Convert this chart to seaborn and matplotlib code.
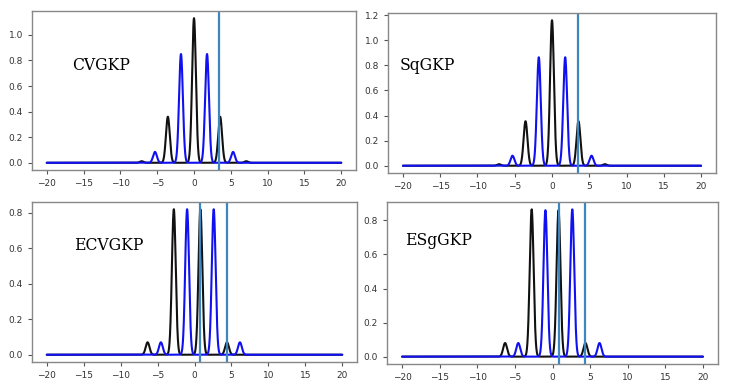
import numpy as np
import pandas as pd
import matplotlib
matplotlib.use("Agg")
import matplotlib.pyplot as plt
import seaborn as sns

sns.set_style("ticks")

# peak data: centres, heights (black and blue combs)
cv_black_x = [-7.1, -3.55, 0.0, 3.55, 7.1]
cv_black_h = [0.012, 0.36, 1.13, 0.36, 0.012]
cv_blue_x = [-5.3, -1.77, 1.77, 5.3]
cv_blue_h = [0.085, 0.85, 0.85, 0.085]
cv_vlines = [3.45]

sq_black_x = [-7.1, -3.55, 0.0, 3.55, 7.1]
sq_black_h = [0.012, 0.355, 1.16, 0.355, 0.012]
sq_blue_x = [-5.3, -1.77, 1.77, 5.3]
sq_blue_h = [0.08, 0.865, 0.865, 0.08]
sq_vlines = [3.45]

ecv_black_x = [-6.35, -2.8, 0.8, 4.4]
ecv_black_h = [0.07, 0.82, 0.82, 0.07]
ecv_blue_x = [-4.55, -1.0, 2.6, 6.15]
ecv_blue_h = [0.07, 0.82, 0.82, 0.07]
ecv_vlines = [0.8, 4.4]

esg_black_x = [-6.3, -2.77, 0.8, 4.38]
esg_black_h = [0.08, 0.865, 0.86, 0.08]
esg_blue_x = [-4.55, -0.94, 2.63, 6.25]
esg_blue_h = [0.08, 0.86, 0.865, 0.08]
esg_vlines = [0.8, 4.38]

labels = ["CVGKP", "SqGKP", "ECVGKP", "ESgGKP"]
peak_sigma = 0.26

x = np.linspace(-20, 20, 4001)


def comb(centres, heights):
    y = np.zeros_like(x)
    for c, h in zip(centres, heights):
        y += h * np.exp(-0.5 * ((x - c) / peak_sigma) ** 2)
    return y


panels = [
    (cv_black_x, cv_black_h, cv_blue_x, cv_blue_h, cv_vlines),
    (sq_black_x, sq_black_h, sq_blue_x, sq_blue_h, sq_vlines),
    (ecv_black_x, ecv_black_h, ecv_blue_x, ecv_blue_h, ecv_vlines),
    (esg_black_x, esg_black_h, esg_blue_x, esg_blue_h, esg_vlines),
]

W, H = 747, 386
# axes boxes in pixels (left, top, right, bottom)
boxes = [(32, 11, 356, 170), (388, 13, 716, 173),
         (32, 202, 357, 362), (387, 202, 718, 364)]
# label position in axes fraction
label_pos = [(0.125, 0.657), (0.034, 0.675), (0.129, 0.73), (0.055, 0.76)]

fig = plt.figure(figsize=(W / 100, H / 100), dpi=100)

for i, (bx, bh, ux, uh, vl) in enumerate(panels):
    l, t, r, b = boxes[i]
    ax = fig.add_axes([l / W, 1 - b / H, (r - l) / W, (b - t) / H])
    df = pd.DataFrame({"x": x, "black": comb(bx, bh), "blue": comb(ux, uh)})
    sns.lineplot(data=df, x="x", y="black", color="#111111", lw=1.5, ax=ax)
    sns.lineplot(data=df, x="x", y="blue", color="#1010f0", lw=1.5, ax=ax)
    for v in vl:
        ax.axvline(v, color="#3d86c0", lw=1.6)
    ax.set_xlabel("")
    ax.set_ylabel("")
    ax.set_xticks([-20, -15, -10, -5, 0, 5, 10, 15, 20])
    ax.tick_params(labelsize=6.5, length=3, width=0.8, colors="#555555",
                   labelcolor="#333333")
    for s in ax.spines.values():
        s.set_color("#888888")
        s.set_linewidth(1.0)
    ax.text(label_pos[i][0], label_pos[i][1], labels[i], transform=ax.transAxes,
            fontsize=12.5, family="DejaVu Serif", fontstretch="condensed",
            color="black", va="center")

fig.savefig("out.png", dpi=100)
